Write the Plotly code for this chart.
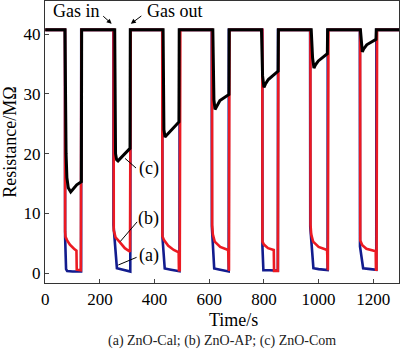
import plotly.graph_objects as go

# ---------------- data ----------------
# (a) ZnO-Cal  (blue)
t_a = [0, 72, 72.5, 76, 80, 100, 131, 131.5,
       249, 249.5, 262, 290, 311, 311.5,
       428, 428.5, 437, 460, 491, 491.5,
       609, 609.5, 618, 640, 671, 671.5,
       794, 794.5, 798, 820, 851, 851.5,
       969, 969.5, 981, 1000, 1033, 1033.5,
       1151, 1151.5, 1163, 1190, 1211, 1211.5, 1300]
r_a = [40.7, 40.7, 6.1, 0.7, 0.4, 0.3, 0.3, 40.7,
       40.7, 8.1, 0.85, 0.6, 0.3, 40.7,
       40.7, 6.1, 0.8, 0.6, 0.35, 40.7,
       40.7, 7.8, 0.8, 0.6, 0.3, 40.7,
       40.7, 4.5, 0.5, 0.5, 0.45, 40.7,
       40.7, 7.8, 0.85, 0.7, 0.55, 40.7,
       40.7, 4.5, 0.85, 0.7, 0.6, 40.7, 40.7]

# (b) ZnO-AP  (red)
t_b = [0, 72, 72.5, 74, 80, 90, 105, 114, 115, 130, 132,
       250, 250.5, 257, 271, 291, 310, 312.5,
       428, 428.5, 435, 450, 470, 488, 489, 492, 494,
       610, 610.5, 613, 620, 640, 669, 670, 672, 674,
       794, 794.5, 800, 815, 836, 837, 851, 853,
       970, 970.5, 973, 980, 1000, 1031, 1032, 1034, 1036,
       1152, 1152.5, 1160, 1175, 1209, 1210, 1212, 1214, 1300]
r_b = [40.7, 40.7, 7.0, 6.1, 5.5, 4.8, 4.1, 3.8, 0.6, 0.5, 40.7,
       40.7, 7.2, 6.0, 5.3, 4.2, 3.6, 40.7,
       40.7, 6.2, 5.5, 4.6, 3.9, 3.5, 0.5, 0.5, 40.7,
       40.7, 8.1, 6.5, 5.3, 4.4, 3.9, 0.4, 0.4, 40.7,
       40.7, 5.3, 4.8, 4.2, 3.9, 0.4, 0.4, 40.7,
       40.7, 8.1, 6.5, 5.3, 4.4, 3.9, 0.5, 0.5, 40.7,
       40.7, 5.5, 4.7, 4.1, 3.7, 0.6, 0.6, 40.7, 40.7]

# (c) ZnO-Com  (black)
t_c = [0, 72, 76, 79, 84, 93, 115, 132, 133,
       254, 257, 261, 266, 310, 311,
       431, 434, 438, 442, 489, 490,
       613, 617, 621, 626, 639, 672, 673,
       791, 795, 800, 805, 816, 852, 853,
       973, 978, 983, 988, 999, 1032, 1033,
       1153, 1157, 1160, 1165, 1176, 1210, 1211, 1300]
r_c = [40.7, 40.7, 20, 16, 14.3, 13.6, 14.8, 15.3, 40.7,
       40.7, 20, 19.0, 18.8, 20.9, 40.7,
       40.7, 24, 22.8, 23.0, 25.3, 40.7,
       40.7, 29, 27.4, 27.8, 28.9, 29.9, 40.7,
       40.7, 33, 31.1, 31.6, 32.4, 33.8, 40.7,
       40.7, 36, 34.3, 34.8, 35.5, 36.7, 40.7,
       40.7, 38.5, 37.0, 37.5, 38.2, 39.1, 40.7, 40.7]

x_ticks = [0, 200, 400, 600, 800, 1000, 1200]
y_ticks = [0, 10, 20, 30, 40]

FONT = "Liberation Serif"

fig = go.Figure()
fig.add_trace(go.Scatter(x=t_a, y=r_a, mode="lines",
                         line=dict(color="#121c8e", width=2.6), showlegend=False))
fig.add_trace(go.Scatter(x=t_b, y=r_b, mode="lines",
                         line=dict(color="#ec1a22", width=2.6), showlegend=False))
fig.add_trace(go.Scatter(x=t_c, y=r_c, mode="lines",
                         line=dict(color="#000000", width=3), showlegend=False))

ann = [
    dict(x=114, y=43.9, text="Gas in", showarrow=False, xanchor="center", yanchor="middle",
         font=dict(size=18)),
    dict(x=243, y=41.7, ax=-10, ay=-9, text="", showarrow=True, arrowhead=2,
         arrowsize=1, arrowwidth=1, arrowcolor="black"),
    dict(x=364, y=43.9, text="Gas out", showarrow=False, xanchor="left", yanchor="middle",
         font=dict(size=18)),
    dict(x=313, y=41.7, ax=12, ay=-9, text="", showarrow=True, arrowhead=2,
         arrowsize=1, arrowwidth=1, arrowcolor="black"),
    dict(x=378, y=17.6, text="(c)", showarrow=False, font=dict(size=18)),
    dict(x=378, y=9.2, text="(b)", showarrow=False, font=dict(size=18)),
    dict(x=378, y=3.05, text="(a)", showarrow=False, font=dict(size=18)),
    dict(x=690, y=-0.131, xref="x", yref="paper", text="Time/s", showarrow=False,
         font=dict(size=18), xanchor="center", yanchor="middle"),
    dict(x=0.5, y=-0.207, xref="paper", yref="paper", text="(a) ZnO-Cal; (b) ZnO-AP; (c) ZnO-Com",
         showarrow=False, font=dict(size=14, color="#222"), xanchor="center", yanchor="middle"),
]

shapes = [
    dict(type="line", x0=292, y0=19.2, x1=332, y1=17.6, line=dict(color="black", width=1)),
    dict(type="line", x0=274, y0=5.3, x1=336, y1=8.6, line=dict(color="black", width=1)),
    dict(type="line", x0=267, y0=1.39, x1=334, y1=2.67, line=dict(color="black", width=1)),
]

fig.update_layout(
    width=400, height=357,
    margin=dict(l=45, r=1, t=1, b=74, autoexpand=False),
    paper_bgcolor="white", plot_bgcolor="white",
    font=dict(family=FONT, size=17, color="black"),
    annotations=ann, shapes=shapes,
    xaxis=dict(range=[-1.1, 1294.2], tickvals=x_ticks, ticks="inside", ticklen=4,
               tickwidth=1, showline=True, linecolor="#333", linewidth=1.3, mirror=True,
               showgrid=False, zeroline=False, automargin=False),
    yaxis=dict(range=[-1.62, 45.52], tickvals=y_ticks, ticks="inside", ticklen=4,
               tickwidth=1, showline=True, linecolor="#333", linewidth=1.3, mirror=True,
               showgrid=False, zeroline=False, automargin=False,
               title=dict(text="Resistance/MΩ", font=dict(size=18), standoff=2)),
)

fig.write_html("out.html", config={"displayModeBar": False},
               post_script="document.body.style.margin='0';")
